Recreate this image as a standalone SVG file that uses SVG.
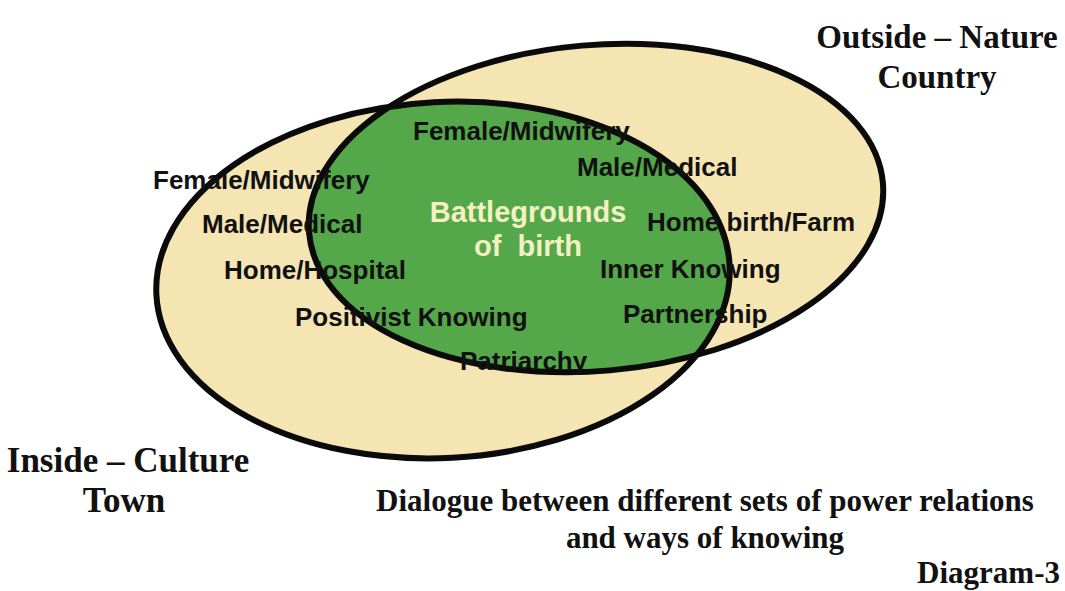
<svg xmlns="http://www.w3.org/2000/svg" width="1065" height="591" viewBox="0 0 1065 591">
<style>
.sans{font-family:"Liberation Sans",Arial,sans-serif;font-weight:bold;font-size:26px;fill:#111}
.light{fill:#F4F0C4;font-size:29px}
.serif{font-family:"Liberation Serif","Times New Roman",serif;font-weight:bold;fill:#111}
.big{font-size:33px}
.big2{font-size:35px}
.mid{font-size:31px}
.outline{fill:none;stroke:#0a0a0a;stroke-width:6}
.beige{fill:#F5E5B3}
.green{fill:#55A849}
</style>
<defs>
<ellipse id="leftE" cx="443" cy="280" rx="287" ry="178" transform="rotate(-3 443 280)"/>
<ellipse id="rightE" cx="596" cy="208" rx="288" ry="163" transform="rotate(-5 596 208)"/>
<clipPath id="clipRight"><use href="#rightE"/></clipPath>
</defs>
<rect width="1065" height="591" fill="#ffffff"/>
<g id="inside-culture">
<use href="#leftE" class="beige"/>
</g>
<g id="outside-nature">
<use href="#rightE" class="beige"/>
</g>
<g id="battlegrounds">
<use href="#leftE" class="green" clip-path="url(#clipRight)"/>
</g>
<g id="outlines">
<use href="#rightE" class="outline"/>
<use href="#leftE" class="outline"/>
</g>
<g id="labels-inside">
<text class="sans" x="153" y="189">Female/Midwifery</text>
<text class="sans" x="202" y="233">Male/Medical</text>
<text class="sans" x="224" y="279">Home/Hospital</text>
<text class="sans" x="295" y="326">Positivist Knowing</text>
<text class="sans" x="460" y="370">Patriarchy</text>
</g>
<g id="labels-outside">
<text class="sans" x="413" y="140">Female/Midwifery</text>
<text class="sans" x="577" y="176">Male/Medical</text>
<text class="sans" x="647" y="231">Home birth/Farm</text>
<text class="sans" x="600" y="278">Inner Knowing</text>
<text class="sans" x="623" y="323">Partnership</text>
</g>
<g id="label-battlegrounds">
<text class="sans light" x="528" y="222" text-anchor="middle">Battlegrounds</text>
<text class="sans light" x="528" y="256" text-anchor="middle" xml:space="preserve">of  birth</text>
</g>
<g id="title-outside">
<text class="serif big" x="937" y="48" text-anchor="middle">Outside – Nature</text>
<text class="serif big" x="937" y="88" text-anchor="middle">Country</text>
</g>
<g id="title-inside">
<text class="serif big2" x="128" y="472" text-anchor="middle">Inside – Culture</text>
<text class="serif big2" x="124" y="512" text-anchor="middle">Town</text>
</g>
<g id="caption">
<text class="serif mid" x="705" y="511" text-anchor="middle">Dialogue between different sets of power relations</text>
<text class="serif mid" x="705" y="548" text-anchor="middle">and ways of knowing</text>
<text class="serif mid" x="1060" y="583" text-anchor="end">Diagram-3</text>
</g>
</svg>
